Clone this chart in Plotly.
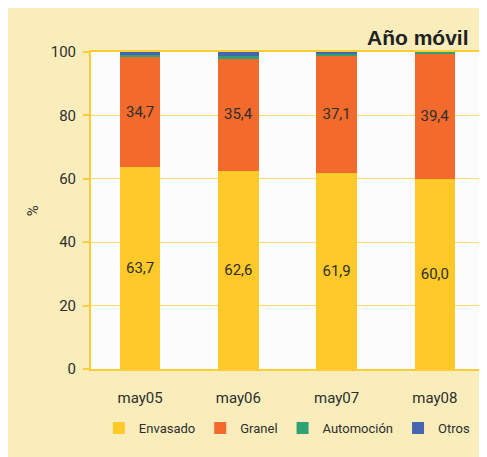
import plotly.graph_objects as go

periodos = ["may05", "may06", "may07", "may08"]
envasado = [63.7, 62.6, 61.9, 60.0]
granel = [34.7, 35.4, 37.1, 39.4]
automocion = [0.8, 0.6, 0.5, 0.6]
otros = [0.8, 1.4, 0.5, 0.0]

fuente = "Liberation Sans Narrow, Roboto, sans-serif"
texto = "#2e2e2e"
amarillo = "#FFCC33"

fig = go.Figure()
series = [
    ("Envasado", envasado, "#FFC929", True),
    ("Granel", granel, "#F26B2C", True),
    ("Automoción", automocion, "#2FA172", False),
    ("Otros", otros, "#4466B0", False),
]
for nombre, valores, color, etiqueta in series:
    fig.add_trace(go.Bar(
        x=periodos, y=valores, name=nombre,
        marker=dict(color=color, line=dict(width=0)),
        texttemplate="%{y:.1f}" if etiqueta else None,
        textposition="inside" if etiqueta else "none",
        insidetextanchor="middle",
        textfont=dict(family=fuente, size=15, color=texto),
        textangle=0,
    ))

# la página tiene 8px de margen en el body, así que la figura ocupa el resto
fig.update_layout(
    width=479, height=449,
    barmode="stack", bargap=0.59,
    separators=",.",
    paper_bgcolor="#F9EDBC",
    plot_bgcolor="#FCFCFC",
    margin=dict(l=83, r=3, t=44, b=88, autoexpand=False),
    font=dict(family=fuente, size=15, color=texto),
    showlegend=True,
    legend=dict(
        orientation="h", x=0.02, y=-0.186, xanchor="left", yanchor="middle",
        font=dict(family=fuente, size=13, color=texto),
        bgcolor="rgba(0,0,0,0)", itemwidth=30, traceorder="normal",
        tracegroupgap=0,
    ),
    xaxis=dict(
        showline=True, linecolor=amarillo, linewidth=2, mirror=True,
        showgrid=False, ticks="", ticklabelstandoff=14, automargin=False,
        tickfont=dict(family=fuente, size=15, color=texto),
    ),
    yaxis=dict(
        range=[0, 100], tickvals=[0, 20, 40, 60, 80, 100],
        showline=True, linecolor=amarillo, linewidth=2, mirror=True,
        showgrid=True, gridcolor="#FFD966", gridwidth=1,
        ticks="outside", ticklen=6, tickcolor=amarillo, tickwidth=2,
        ticklabelstandoff=4, zeroline=False, automargin=False,
        tickfont=dict(family=fuente, size=15, color=texto),
    ),
    annotations=[
        dict(text="<b>Año móvil</b>", xref="paper", yref="paper", x=0.966, y=1.047,
             xanchor="right", yanchor="middle", showarrow=False,
             font=dict(family="Liberation Sans, Arial, sans-serif", size=21, color="#222222")),
        dict(text="%", xref="paper", yref="paper", x=-0.148, y=0.5,
             xanchor="center", yanchor="middle", showarrow=False, textangle=-90,
             font=dict(family=fuente, size=15, color=texto)),
    ],
)

fig.write_html("out.html")
